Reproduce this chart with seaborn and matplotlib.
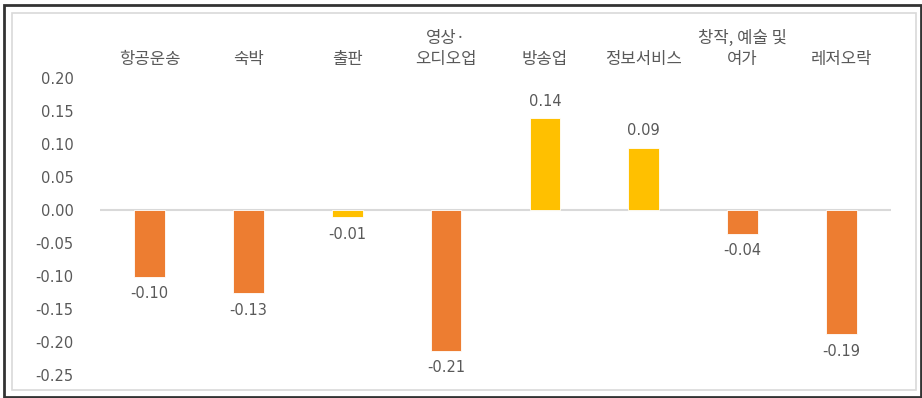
import matplotlib
matplotlib.use("Agg")
import matplotlib.pyplot as plt
from matplotlib.patches import Rectangle
import seaborn as sns
import pandas as pd

# Industry categories and their values
categories = ["항공운송", "숙박", "출판", "영상·\n오디오업", "방송업", "정보서비스", "창작, 예술 및\n여가", "레저오락"]
values = [-0.101, -0.126, -0.011, -0.213, 0.139, 0.094, -0.036, -0.188]
groups = ["B", "B", "A", "B", "A", "A", "B", "B"]
y_ticks = [0.20, 0.15, 0.10, 0.05, 0.00, -0.05, -0.10, -0.15, -0.20, -0.25]

palette = {"A": "#FFC000", "B": "#ED7D31"}
text_color = "#595959"
num_font = ["DejaVu Sans"]
kor_font = ["Noto Sans CJK KR", "DejaVu Sans"]

sns.set_theme(style="white")
plt.rcParams["font.family"] = kor_font

df = pd.DataFrame({"category": categories, "value": values, "group": groups})

fig = plt.figure(figsize=(9.22, 3.98), dpi=100)
ax = fig.add_axes([100 / 922, 1 - 375 / 398, 791 / 922, (375 - 78) / 398])

sns.barplot(data=df, x="category", y="value", hue="group", palette=palette,
            dodge=False, width=0.31, legend=False, ax=ax,
            edgecolor="white", linewidth=0.6, saturation=1)

ax.set_xlim(-0.5, len(categories) - 0.5)
ax.set_ylim(-0.25, 0.20)
ax.set_yticks(y_ticks)
ax.set_yticklabels([f"{t:.2f}" for t in y_ticks], color=text_color,
                   fontsize=10.5, family=num_font)
ax.tick_params(axis="y", length=0, pad=19)

ax.xaxis.tick_top()
ax.set_xticks(range(len(categories)))
ax.set_xticklabels(categories, color=text_color, fontsize=12, linespacing=1.35,
                   family=kor_font)
ax.tick_params(axis="x", length=0, pad=7)
ax.set_xlabel("")
ax.set_ylabel("")

for s in ax.spines.values():
    s.set_visible(False)

ax.axhline(0, color="#D9D9D9", linewidth=1.5, zorder=0)

# Value labels above positive and below negative bars
for i, v in enumerate(values):
    if v >= 0:
        ax.annotate(f"{v:.2f}", (i, v), xytext=(0, 7), textcoords="offset points",
                    ha="center", va="bottom", color=text_color, fontsize=10.5,
                    family=num_font)
    else:
        ax.annotate(f"{v:.2f}", (i, v), xytext=(0, -7), textcoords="offset points",
                    ha="center", va="top", color=text_color, fontsize=10.5,
                    family=num_font)

# Chart-area frame and outer border
W, H = 922, 398
fig.patches.append(Rectangle((11.5 / W, (H - 389.5) / H), (916 - 11.5) / W, (389.5 - 12.5) / H,
                             transform=fig.transFigure, fill=False,
                             edgecolor="#D9D9D9", linewidth=1.2))
fig.patches.append(Rectangle((3.5 / W, (H - 396.5) / H), (921 - 3.5) / W, (396.5 - 4.5) / H,
                             transform=fig.transFigure, fill=False,
                             edgecolor="#333333", linewidth=2.0))

fig.savefig("out.png", dpi=100)
